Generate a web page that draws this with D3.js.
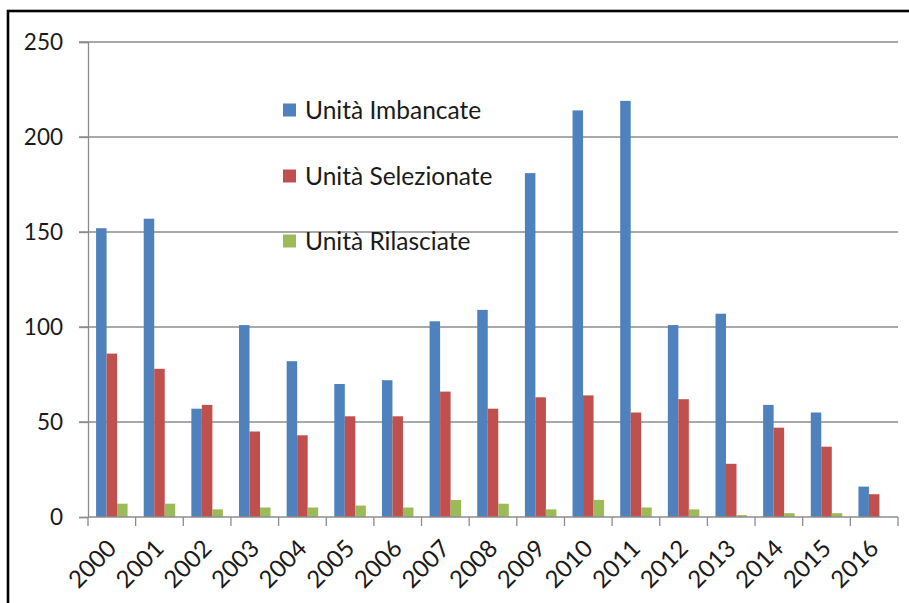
<!DOCTYPE html>
<html><head><meta charset="utf-8">
<script src="https://cdn.jsdelivr.net/npm/d3@7"></script>
<style>
html,body{margin:0;padding:0;background:#fff;}
svg{display:block;}
text{font-family:Lato,"Open Sans",sans-serif;fill:#1a1a1a;}
</style></head>
<body>
<script>
const years = ["2000","2001","2002","2003","2004","2005","2006","2007","2008","2009","2010","2011","2012","2013","2014","2015","2016"];
const seriesNames = ["Unità Imbancate","Unità Selezionate","Unità Rilasciate"];
const imbancate   = [152,157,57,101,82,70,72,103,109,181,214,219,101,107,59,55,16];
const selezionate = [86,78,59,45,43,53,53,66,57,63,64,55,62,28,47,37,12];
const rilasciate  = [7,7,4,5,5,6,5,9,7,4,9,5,4,1,2,2,0];
const yTicks = [0,50,100,150,200,250];
const colors = ["#4F81BD","#C0504D","#9BBB59"];

const W = 909, H = 603;
const svg = d3.select("body").append("svg").attr("width", W).attr("height", H);

// outer frame
svg.append("rect").attr("x", 8).attr("y", 11).attr("width", 920).attr("height", 620)
  .attr("fill", "none").attr("stroke", "#000").attr("stroke-width", 2.6);

const x = d3.scaleBand().domain(years).range([88, 898]).paddingInner(0).paddingOuter(0);
const y = d3.scaleLinear().domain([0, 250]).range([517, 42]);
const bw = x.bandwidth();
const groupW = 31.5;
const xs = d3.scaleBand().domain(seriesNames).range([(bw - groupW) / 2, (bw + groupW) / 2]);

// gridlines
svg.append("g").selectAll("line").data(yTicks.filter(d => d > 0)).join("line")
  .attr("x1", 79).attr("x2", 898)
  .attr("y1", d => y(d)).attr("y2", d => y(d))
  .attr("stroke", "#8c8c8c").attr("stroke-width", 1.3);

// y axis
const yAxis = svg.append("g").attr("transform", "translate(88,0)")
  .call(d3.axisLeft(y).tickValues(yTicks).tickSize(9).tickPadding(16).tickFormat(d3.format("d")));
yAxis.select(".domain").attr("stroke", "#8c8c8c").attr("stroke-width", 1.3);
yAxis.selectAll(".tick line").attr("stroke", "#8c8c8c").attr("stroke-width", 1.3);
yAxis.selectAll(".tick text").attr("font-size", 22.5).attr("font-family", "Lato").attr("fill", "#1a1a1a");

// bars
const data = [imbancate, selezionate, rilasciate];
data.forEach((vals, si) => {
  svg.append("g").selectAll("rect").data(vals).join("rect")
    .attr("x", (d, i) => x(years[i]) + xs(seriesNames[si]))
    .attr("y", d => y(d))
    .attr("width", xs.bandwidth())
    .attr("height", d => y(0) - y(d))
    .attr("fill", colors[si]);
});

// x axis
const xAxisG = svg.append("g").attr("transform", `translate(0,${y(0)})`);
xAxisG.append("line").attr("x1", 88).attr("x2", 898).attr("y1", 0).attr("y2", 0)
  .attr("stroke", "#8c8c8c").attr("stroke-width", 1.3);
const bounds = years.map(d => x(d)).concat([x(years[years.length - 1]) + bw]);
xAxisG.selectAll("line.tk").data(bounds).join("line").attr("class", "tk")
  .attr("x1", d => d).attr("x2", d => d).attr("y1", 0).attr("y2", 9)
  .attr("stroke", "#8c8c8c").attr("stroke-width", 1.3);
svg.append("g").selectAll("text").data(years).join("text")
  .attr("transform", d => `translate(${x(d) + bw / 2 + 6},550) rotate(-45)`)
  .attr("text-anchor", "end")
  .attr("font-size", 24)
  .text(d => d);

// legend
const legY = [110, 176, 241];
const leg = svg.append("g");
seriesNames.forEach((name, i) => {
  leg.append("rect").attr("x", 283).attr("y", legY[i] - 6.5).attr("width", 13).attr("height", 13)
    .attr("fill", colors[i]);
  leg.append("text").attr("x", 305).attr("y", legY[i]).attr("dy", "0.36em")
    .attr("font-size", 24.5).text(name);
});
</script>
</body></html>
